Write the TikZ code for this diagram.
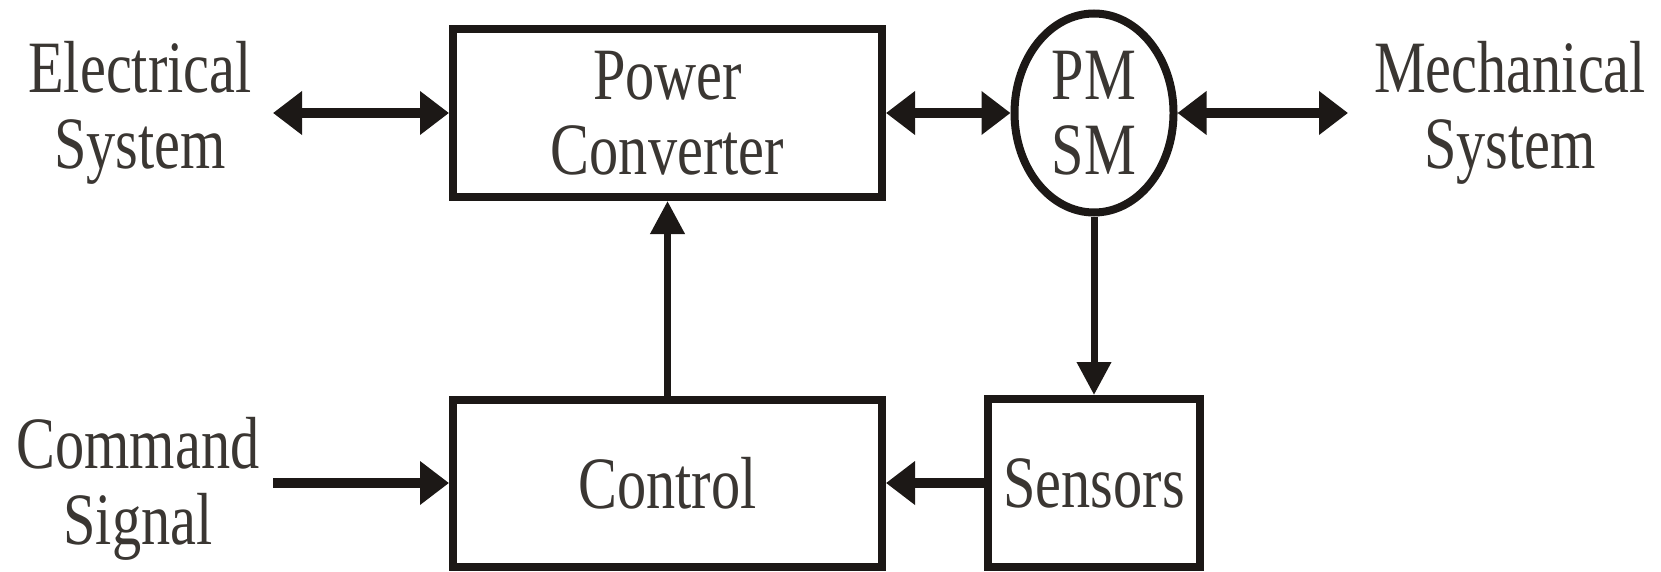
\documentclass[tikz,border=0pt]{standalone}
\usepackage{fontspec}
\setmainfont[FakeStretch=0.79]{Liberation Serif}
\usetikzlibrary{arrows.meta,shapes.geometric}
\definecolor{inkline}{RGB}{28,24,22}
\definecolor{inktext}{RGB}{58,54,50}

\begin{document}
\begin{tikzpicture}[>={Triangle[length=0.29cm,width=0.42cm]},
    block/.style={draw=inkline,line width=0.08cm,inner sep=0pt,text=inktext,align=center},
    lbl/.style={text=inktext,align=center,inner sep=0pt},
    flow/.style={line width=0.1cm,draw=inkline},
    vflow/.style={line width=0.07cm,draw=inkline,-{Triangle[length=0.33cm,width=0.33cm]}},
    font=\fontsize{21pt}{21.5pt}\selectfont]
    \useasboundingbox (0,0) rectangle (16.61,5.71);

    \node[block,minimum width=4.29cm,minimum height=1.68cm] (pc) at (6.675,4.58) {Power\\Converter};
    \node[block,ellipse,minimum width=1.59cm,minimum height=1.99cm] (pmsm) at (10.94,4.58) {PM\\SM};
    \node[block,minimum width=4.29cm,minimum height=1.67cm] (ctrl) at (6.675,0.88) {Control};
    \node[block,minimum width=2.12cm,minimum height=1.68cm] (sens) at (10.94,0.88) {Sensors};

    \node[lbl] (elec) at (1.40,4.58) {Electrical\\System};
    \node[lbl] (mech) at (15.10,4.58) {Mechanical\\System};
    \node[lbl] (cmd) at (1.38,0.82) {Command\\Signal};

    \coordinate (elecend) at (2.73,4.58);
    \coordinate (mechend) at (13.48,4.58);
    \coordinate (cmdend) at (2.73,0.88);

    \draw[flow,<->] (elecend) -- (pc.west);
    \draw[flow,<->] (pc.east) -- (pmsm.west);
    \draw[flow,<->] (pmsm.east) -- (mechend);
    \draw[flow,->] (cmdend) -- (ctrl.west);
    \draw[flow,->] (sens.west) -- (ctrl.east);
    \draw[vflow] (ctrl.north) -- (pc.south);
    \draw[vflow] (pmsm.south) -- (sens.north);
\end{tikzpicture}
\end{document}
